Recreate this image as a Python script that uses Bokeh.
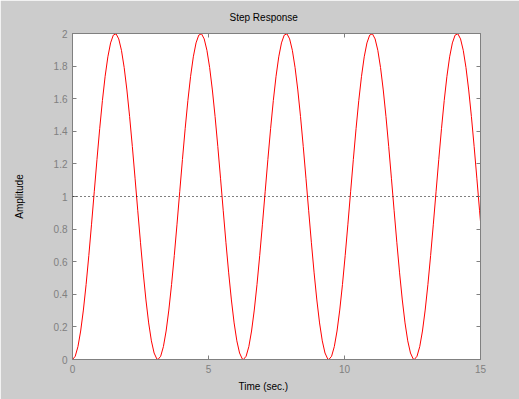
from bokeh.plotting import figure
from bokeh.models import LinearAxis, FixedTicker, NumeralTickFormatter, Span, Title
from bokeh.embed import file_html
from bokeh.resources import INLINE

# ---- data ----
time_s = [
    0.0, 0.1, 0.2, 0.3, 0.4, 0.5, 0.6, 0.7, 0.8, 0.9, 1.0, 1.1, 1.2, 1.3, 1.4, 1.5,
    1.6, 1.7, 1.8, 1.9, 2.0, 2.1, 2.2, 2.3, 2.4, 2.5, 2.6, 2.7, 2.8, 2.9, 3.0, 3.1,
    3.142, 3.242, 3.342, 3.442, 3.542, 3.642, 3.742, 3.842, 3.942, 4.042, 4.142, 4.242,
    4.342, 4.442, 4.542, 4.642, 4.742, 4.842, 4.942, 5.042, 5.142, 5.242, 5.342, 5.442,
    5.542, 5.642, 5.742, 5.842, 5.942, 6.042, 6.142, 6.242,
    6.283, 6.383, 6.483, 6.583, 6.683, 6.783, 6.883, 6.983, 7.083, 7.183, 7.283, 7.383,
    7.483, 7.583, 7.683, 7.783, 7.883, 7.983, 8.083, 8.183, 8.283, 8.383, 8.483, 8.583,
    8.683, 8.783, 8.883, 8.983, 9.083, 9.183, 9.283, 9.383,
    9.425, 9.525, 9.625, 9.725, 9.825, 9.925, 10.025, 10.125, 10.225, 10.325, 10.425,
    10.525, 10.625, 10.725, 10.825, 10.925, 11.025, 11.125, 11.225, 11.325, 11.425,
    11.525, 11.625, 11.725, 11.825, 11.925, 12.025, 12.125, 12.225, 12.325, 12.425, 12.525,
    12.566, 12.666, 12.766, 12.866, 12.966, 13.066, 13.166, 13.266, 13.366, 13.466,
    13.566, 13.666, 13.766, 13.866, 13.966, 14.066, 14.166, 14.266, 14.366, 14.466,
    14.566, 14.666, 14.766, 14.866, 14.966, 15.0,
]
amplitude = [
    0.0, 0.0199, 0.0789, 0.1747, 0.3033, 0.4597, 0.6376, 0.8300, 1.0292, 1.2272, 1.4161,
    1.5885, 1.7374, 1.8569, 1.9422, 1.9900, 1.9983, 1.9668, 1.8968, 1.7910, 1.6536,
    1.4903, 1.3073, 1.1122, 0.9125, 0.7163, 0.5315, 0.3653, 0.2244, 0.1145, 0.0398, 0.0035,
    0.0, 0.0199, 0.0789, 0.1747, 0.3033, 0.4597, 0.6376, 0.8300, 1.0292, 1.2272, 1.4161,
    1.5885, 1.7374, 1.8569, 1.9422, 1.9900, 1.9983, 1.9668, 1.8968, 1.7910, 1.6536,
    1.4903, 1.3073, 1.1122, 0.9125, 0.7163, 0.5315, 0.3653, 0.2244, 0.1145, 0.0398, 0.0035,
    0.0, 0.0199, 0.0789, 0.1747, 0.3033, 0.4597, 0.6376, 0.8300, 1.0292, 1.2272, 1.4161,
    1.5885, 1.7374, 1.8569, 1.9422, 1.9900, 1.9983, 1.9668, 1.8968, 1.7910, 1.6536,
    1.4903, 1.3073, 1.1122, 0.9125, 0.7163, 0.5315, 0.3653, 0.2244, 0.1145, 0.0398, 0.0035,
    0.0, 0.0199, 0.0789, 0.1747, 0.3033, 0.4597, 0.6376, 0.8300, 1.0292, 1.2272, 1.4161,
    1.5885, 1.7374, 1.8569, 1.9422, 1.9900, 1.9983, 1.9668, 1.8968, 1.7910, 1.6536,
    1.4903, 1.3073, 1.1122, 0.9125, 0.7163, 0.5315, 0.3653, 0.2244, 0.1145, 0.0398, 0.0035,
    0.0, 0.0199, 0.0789, 0.1747, 0.3033, 0.4597, 0.6376, 0.8300, 1.0292, 1.2272, 1.4161,
    1.5885, 1.7374, 1.8569, 1.9422, 1.9900, 1.9983, 1.9668, 1.8968, 1.7910, 1.6536,
    1.4903, 1.3073, 1.1122, 0.9125, 0.8457,
]
final_value = 1.0
x_ticks = [0, 5, 10, 15]
y_ticks = [0, 0.2, 0.4, 0.6, 0.8, 1, 1.2, 1.4, 1.6, 1.8, 2]
title_text = "Step Response"
x_label = "Time (sec.)"
y_label = "Amplitude"

# ---- styling ----
GRAY = "#808080"
BG = "#cccccc"
FONT = "Liberation Sans"

p = figure(width=519, height=399, x_range=(0, 15), y_range=(0, 2),
           output_backend="svg", toolbar_location=None,
           background_fill_color="white", border_fill_color=BG,
           min_border_left=72, min_border_right=39, min_border_top=33, min_border_bottom=40,
           outline_line_color=GRAY, outline_line_width=1)
p.xgrid.visible = False
p.ygrid.visible = False

p.add_layout(LinearAxis(), "right")
p.add_layout(LinearAxis(), "above")


def style_axis(ax, ticks, show_labels):
    ax.ticker = FixedTicker(ticks=ticks)
    ax.major_tick_in = 4
    ax.major_tick_out = 0
    ax.minor_tick_line_color = None
    ax.axis_line_color = GRAY
    ax.major_tick_line_color = GRAY
    ax.major_label_text_color = GRAY
    ax.major_label_text_font = FONT
    ax.major_label_text_font_size = "10px"
    if not show_labels:
        ax.major_label_text_font_size = "0px"
        ax.major_label_text_color = None
        ax.major_label_standoff = 0


style_axis(p.below[0], x_ticks, True)
style_axis(p.left[0], y_ticks, True)
style_axis(p.right[0], y_ticks, False)
style_axis(p.above[0], x_ticks, False)

p.below[0].major_label_standoff = 5
p.left[0].major_label_standoff = 5
p.left[0].formatter = NumeralTickFormatter(format="0.[0]")
p.left[0].axis_label = y_label
p.left[0].axis_label_text_font = FONT
p.left[0].axis_label_text_font_size = "10px"
p.left[0].axis_label_text_font_style = "normal"
p.left[0].axis_label_text_color = "black"
p.left[0].axis_label_standoff = 26

p.title.text = title_text
p.title.align = "left"
p.title.offset = 157
p.title.vertical_align = "top"
p.title.text_font = FONT
p.title.text_font_size = "10px"
p.title.text_font_style = "normal"
p.title.text_color = "black"
p.title.standoff = 18

p.add_layout(Title(text=x_label, align="left", offset=166, text_font=FONT,
                   text_font_size="10px", text_font_style="normal",
                   text_color="black", standoff=7), "below")

p.add_layout(Span(location=final_value, dimension="width", line_color="black",
                  line_dash="1 3", line_width=1))

p.line(time_s, amplitude, line_color="red", line_width=1)

open("out.html", "w").write(file_html(p, INLINE))
